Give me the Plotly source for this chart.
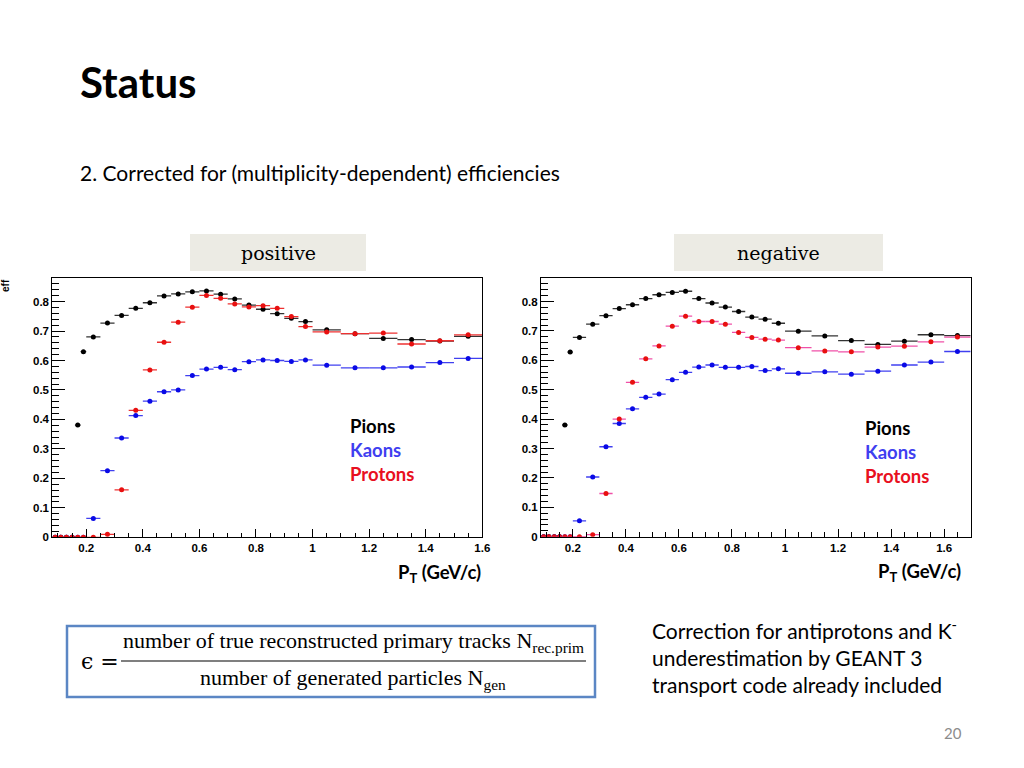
import plotly.graph_objects as go

# ---- data ----
pt_centers = [0.09, 0.11, 0.13, 0.15, 0.17, 0.19,
              0.225, 0.275, 0.325, 0.375, 0.425, 0.475, 0.525, 0.575,
              0.625, 0.675, 0.725, 0.775, 0.825, 0.875, 0.925, 0.975,
              1.05, 1.15, 1.25, 1.35, 1.45, 1.55, 1.65]
pt_halfwidths = [0.01] * 6 + [0.025] * 16 + [0.05] * 7

pos_pions = [0, 0, 0, 0, 0.381, 0.630,
             0.680, 0.727, 0.753, 0.777, 0.796, 0.819, 0.826, 0.833,
             0.836, 0.825, 0.809, 0.788, 0.774, 0.759, 0.743, 0.732,
             0.704, 0.691, 0.675, 0.671, 0.666, 0.682]
pos_kaons = [0, 0, 0, 0, 0, 0,
             0.064, 0.226, 0.337, 0.413, 0.462, 0.494, 0.500, 0.549,
             0.571, 0.577, 0.569, 0.596, 0.602, 0.600, 0.597, 0.602,
             0.584, 0.575, 0.575, 0.578, 0.593, 0.607]
pos_protons = [0, 0, 0, 0, 0, 0,
               0.0, 0.010, 0.161, 0.431, 0.568, 0.662, 0.730, 0.781,
               0.821, 0.811, 0.792, 0.782, 0.786, 0.777, 0.749, 0.715,
               0.697, 0.691, 0.693, 0.656, 0.667, 0.687]

neg_pions = [0, 0, 0, 0, 0.380, 0.628,
             0.678, 0.723, 0.752, 0.776, 0.789, 0.810, 0.823, 0.831,
             0.835, 0.810, 0.795, 0.781, 0.766, 0.747, 0.740, 0.726,
             0.699, 0.683, 0.667, 0.654, 0.665, 0.687, 0.684]
neg_kaons = [0, 0, 0, 0, 0, 0,
             0.054, 0.203, 0.306, 0.385, 0.435, 0.474, 0.485, 0.534,
             0.559, 0.577, 0.584, 0.576, 0.576, 0.579, 0.565, 0.571,
             0.556, 0.561, 0.553, 0.563, 0.584, 0.594, 0.630]
neg_protons = [0, 0, 0, 0, 0, 0,
               0.0, 0.007, 0.147, 0.400, 0.525, 0.605, 0.649, 0.716,
               0.750, 0.732, 0.732, 0.723, 0.695, 0.678, 0.672, 0.669,
               0.643, 0.632, 0.629, 0.645, 0.648, 0.663, 0.679]

x_ticks = [0.2, 0.4, 0.6, 0.8, 1.0, 1.2, 1.4, 1.6]
x_tick_labels = ["0.2", "0.4", "0.6", "0.8", "1", "1.2", "1.4", "1.6"]
y_ticks = [0, 0.1, 0.2, 0.3, 0.4, 0.5, 0.6, 0.7, 0.8]
y_tick_labels = ["0", "0.1", "0.2", "0.3", "0.4", "0.5", "0.6", "0.7", "0.8"]

species = ["Pions", "Kaons", "Protons"]
marker_colors = ["#000000", "#0a0ae6", "#e81010"]
err_colors_pos = ["#333333", "#4040f0", "#ee3030"]
err_colors_neg = ["#333333", "#4040f0", "#f050a8"]
label_colors = ["#000000", "#3f3ff0", "#e81020"]

# reference layout coordinates are in a 1024x768 frame
RW, RH = 1024, 768
W, H = 1032, 774
def px(x):
    return x / RW
def py(y):
    return 1 - y / RH

fig = go.Figure()

panels = [
    ("x", "y", [pos_pions, pos_kaons, pos_protons], err_colors_pos),
    ("x2", "y2", [neg_pions, neg_kaons, neg_protons], err_colors_neg),
]
for xa, ya, series, ecs in panels:
    for name, vals, mc, ec in zip(species, series, marker_colors, ecs):
        n = len(vals)
        fig.add_trace(go.Scatter(
            x=pt_centers[:n], y=vals, mode="markers", name=name,
            xaxis=xa, yaxis=ya, showlegend=False,
            marker=dict(color=mc, size=5),
            error_x=dict(type="data", array=pt_halfwidths[:n], width=0,
                         thickness=1.3, color=ec),
        ))

axis_common = dict(
    showline=True, linecolor="#000000", linewidth=1, mirror=True,
    ticks="inside", tickcolor="#000000", showgrid=False, zeroline=False,
    tickfont=dict(family="Liberation Sans", size=11.5, color="#000000", weight="bold"),
)
xminor = dict(dtick=0.05, tick0=0, ticklen=4.5, ticks="inside", tickcolor="#000")
yminor = dict(dtick=0.02, tick0=0, ticklen=6.5, ticks="inside", tickcolor="#000")
fig.update_layout(
    width=W, height=H, margin=dict(l=0, r=0, t=0, b=0),
    paper_bgcolor="white", plot_bgcolor="white",
    xaxis=dict(domain=[px(52.3), px(482.3)], range=[0.08, 1.6], anchor="y",
               tickvals=x_ticks, ticktext=x_tick_labels, ticklen=8,
               minor=xminor, **axis_common),
    yaxis=dict(domain=[py(537.3), py(278)], range=[0, 0.88], anchor="x",
               tickvals=y_ticks, ticktext=y_tick_labels, ticklen=12.5,
               minor=yminor, **axis_common),
    xaxis2=dict(domain=[px(541), px(970.7)], range=[0.08, 1.7], anchor="y2",
                tickvals=x_ticks, ticktext=x_tick_labels, ticklen=8,
                minor=xminor, **axis_common),
    yaxis2=dict(domain=[py(536.7), py(278)], range=[0, 0.88], anchor="x2",
                tickvals=y_ticks, ticktext=y_tick_labels, ticklen=12.5,
                minor=yminor, **axis_common),
)

ann = []
def text(x, y, s, size, color="#000000", family="Lato", weight="normal",
         xanchor="left", yanchor="middle", angle=0):
    ann.append(dict(x=px(x), y=py(y), xref="paper", yref="paper", text=s,
                    showarrow=False, xanchor=xanchor, yanchor=yanchor,
                    textangle=angle,
                    font=dict(family=family, size=size, color=color, weight=weight)))

text(78, 82, "Status", 42, weight="bold")
text(78, 172, "2. Corrected for (multiplicity-dependent) efficiencies", 21)

shapes = []
for x0, x1, lab in [(190, 366, "positive"), (674, 883, "negative")]:
    shapes.append(dict(type="rect", xref="paper", yref="paper",
                       x0=px(x0), x1=px(x1), y0=py(271), y1=py(234),
                       fillcolor="#ecebe4", line=dict(width=0), layer="below"))
    text((x0 + x1) / 2, 253, lab, 19, family="DejaVu Serif", xanchor="center")

text(6, 286, "eff", 10, family="Liberation Sans", weight="bold", angle=-90, xanchor="center")

for lx, ly0 in [(348, 426), (863, 428)]:
    for i, (name, c) in enumerate(zip(species, label_colors)):
        text(lx, ly0 + 24 * i, name, 18.5, color=c, weight="bold")

text(483, 573, "P<sub>T</sub> (GeV/c)", 18.5, weight="bold", xanchor="right")
text(963, 572, "P<sub>T</sub> (GeV/c)", 18.5, weight="bold", xanchor="right")

# formula box
shapes.append(dict(type="rect", xref="paper", yref="paper",
                   x0=px(67), x1=px(595), y0=py(697), y1=py(626),
                   line=dict(color="#5b86c4", width=2.5), fillcolor="rgba(0,0,0,0)"))
shapes.append(dict(type="line", xref="paper", yref="paper",
                   x0=px(121), x1=px(586), y0=py(661), y1=py(661),
                   line=dict(color="#000000", width=1.2)))
text(79, 661, "ϵ =", 22, family="DejaVu Serif")
text(353, 642, "number of true reconstructed primary tracks N<sub>rec.prim</sub>", 22,
     family="Liberation Serif", xanchor="center")
text(353, 679, "number of generated particles N<sub>gen</sub>", 22,
     family="Liberation Serif", xanchor="center")

text(650, 629, "Correction for antiprotons and K<sup>-</sup>", 21)
text(650, 657, "underestimation by GEANT 3", 21)
text(650, 684, "transport code already included", 21)

text(953, 733, "20", 15, color="#8c8c8c", xanchor="center")

fig.update_layout(annotations=ann, shapes=shapes)
fig.write_html(
    "out.html",
    config={"displayModeBar": False},
    post_script=("document.documentElement.style.margin='0px';"
                 "document.documentElement.style.overflow='hidden';"
                 "document.body.style.margin='0px';"
                 "document.body.style.overflow='hidden';"),
)
